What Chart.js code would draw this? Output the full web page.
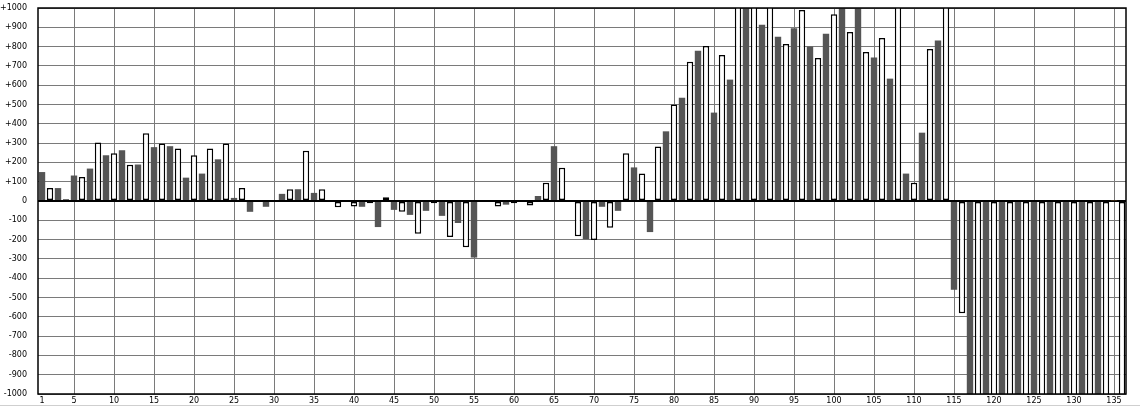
<!DOCTYPE html>
<html>
<head>
<meta charset="utf-8">
<script src="https://cdn.jsdelivr.net/npm/chart.js@4.4.1/dist/chart.umd.min.js"></script>
<style>
  html, body { margin: 0; padding: 0; background: #fff; }
  #c { display: block; }
</style>
</head>
<body>
<canvas id="c" width="1140" height="407"></canvas>
<script>
const categories = [
  1,2,3,4,5,6,7,8,9,10,11,12,13,14,15,16,17,18,19,20,
  21,22,23,24,25,26,27,28,29,30,31,32,33,34,35,36,37,38,39,40,
  41,42,43,44,45,46,47,48,49,50,51,52,53,54,55,56,57,58,59,60,
  61,62,63,64,65,66,67,68,69,70,71,72,73,74,75,76,77,78,79,80,
  81,82,83,84,85,86,87,88,89,90,91,92,93,94,95,96,97,98,99,100,
  101,102,103,104,105,106,107,108,109,110,111,112,113,114,115,116,117,118,119,120,
  121,122,123,124,125,126,127,128,129,130,131,132,133,134,135,136
];

const values = [
  150, 67, 67, 9, 132, 125, 168, 303, 237, 247,
  263, 188, 189, 351, 279, 298, 284, 272, 121, 237,
  142, 272, 216, 298, 16, 67, -56, 0, -30, 0,
  37, 61, 61, 261, 42, 61, 5, -33, 0, -28,
  -30, -12, -135, 19, -46, -56, -72, -170, -51, -12,
  -77, -186, -114, -240, -293, -5, 0, -28, -19, -12,
  5, -23, 26, 95, 284, 172, 0, -182, -198, -202,
  -30, -139, -51, 247, 174, 142, -161, 282, 361, 500,
  535, 722, 779, 803, 458, 756, 629, 1050, 1050, 1050,
  913, 1050, 851, 813, 895, 989, 800, 741, 867, 968,
  1050, 876, 1050, 772, 743, 845, 634, 1050, 142, 95,
  354, 788, 831, 1050, -460, -581, -1050, -1050, -1050, -1050,
  -1050, -1050, -1050, -1050, -1050, -1050, -1050, -1050, -1050, -1050,
  -1050, -1050, -1050, -1050, 4, -1050
];

const xTickLabels = ['1','5','10','15','20','25','30','35','40','45','50','55','60','65','70',
  '75','80','85','90','95','100','105','110','115','120','125','130','135'];

const yTickValues = [-1000,-900,-800,-700,-600,-500,-400,-300,-200,-100,0,
  100,200,300,400,500,600,700,800,900,1000];

const markedCategories = [135];

const FONT = { family: '"DejaVu Sans", Verdana, sans-serif', size: 8 };
const DARK = '#555555';
const GRID = '#7a7a7a';

function isDark(i) { return categories[i] % 2 === 1; }
function isMarked(i) { return markedCategories.includes(categories[i]); }

const frame = {
  id: 'frame',
  afterDatasetsDraw(chart) {
    const { ctx, chartArea: a } = chart;
    ctx.save();
    ctx.strokeStyle = '#000';
    ctx.lineWidth = 1.5;
    ctx.strokeRect(a.left, a.top, a.right - a.left, a.bottom - a.top);
    ctx.strokeStyle = '#cfcfcf';
    ctx.lineWidth = 1;
    ctx.beginPath();
    ctx.moveTo(0, 405.5);
    ctx.lineTo(chart.width, 405.5);
    ctx.stroke();
    ctx.restore();
  }
};

new Chart(document.getElementById('c'), {
  type: 'bar',
  data: {
    labels: categories,
    datasets: [{
      data: values,
      backgroundColor: c => isMarked(c.dataIndex) ? '#d08a3c' : (isDark(c.dataIndex) ? DARK : '#ffffff'),
      borderColor: c => isMarked(c.dataIndex) ? '#d08a3c' : '#000000',
      borderWidth: c => (isDark(c.dataIndex) || isMarked(c.dataIndex)) ? 0 : 1.5,
      borderSkipped: false,
      barPercentage: 0.8,
      categoryPercentage: 1.0
    }]
  },
  options: {
    responsive: false,
    animation: false,
    events: [],
    layout: { padding: { top: 8, right: 14, left: 0, bottom: 0 } },
    plugins: { legend: { display: false }, tooltip: { enabled: false } },
    scales: {
      x: {
        offset: true,
        grid: {
          offset: false,
          drawTicks: false,
          lineWidth: 1,
          color: c => xTickLabels.includes(String(categories[c.index])) && categories[c.index] !== 1 ? GRID : 'rgba(0,0,0,0)'
        },
        border: { display: false },
        ticks: {
          autoSkip: false,
          maxRotation: 0,
          minRotation: 0,
          padding: 2,
          color: '#000',
          font: FONT,
          callback: (v, i) => xTickLabels.includes(String(categories[i])) ? String(categories[i]) : ''
        },
        afterFit: s => { s.height = 13; s.paddingLeft = 0; s.paddingRight = 0; }
      },
      y: {
        min: -1000,
        max: 1000,
        afterBuildTicks: s => { s.ticks = yTickValues.map(v => ({ value: v })); },
        grid: {
          drawTicks: false,
          color: c => c.tick && c.tick.value === 0 ? '#000' : GRID,
          lineWidth: c => c.tick && c.tick.value === 0 ? 2 : 1
        },
        border: { display: false },
        ticks: {
          padding: 11,
          color: '#000',
          font: FONT,
          callback: v => v > 0 ? '+' + v : String(v)
        },
        afterFit: s => { s.width = 38; s.paddingTop = 0; s.paddingBottom = 0; }
      }
    }
  },
  plugins: [frame]
});
</script>
</body>
</html>
